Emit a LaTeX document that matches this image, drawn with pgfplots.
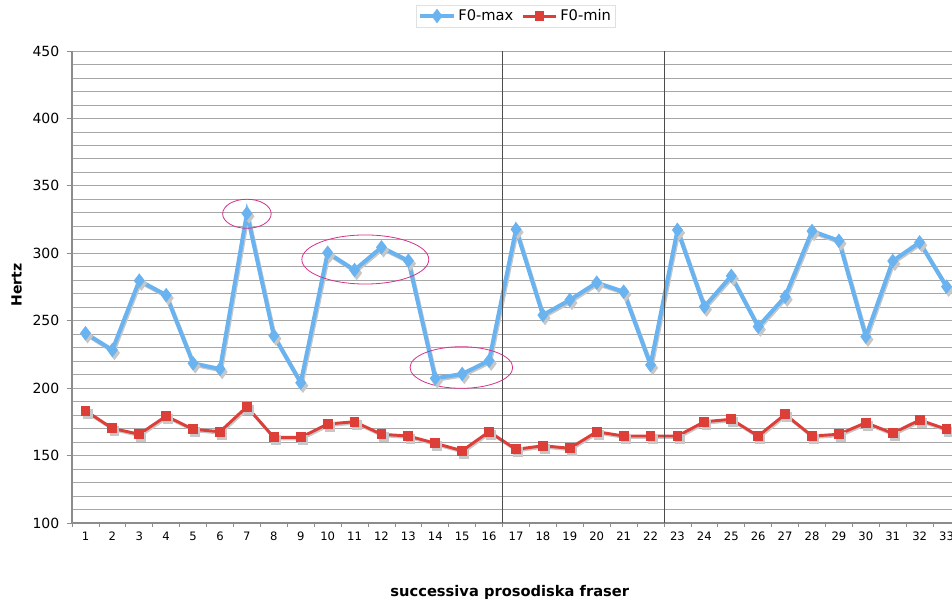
\documentclass[border=0pt]{standalone}
\usepackage{pgfplots}
\pgfplotsset{compat=1.18}
\usepackage{fontspec}
\setmainfont{DejaVu Sans}
\definecolor{fblue}{RGB}{104,179,240}
\definecolor{fred}{RGB}{222,62,56}
\definecolor{fmag}{RGB}{214,48,140}
\pgfplotstableread{
x max min
1 240.7 183.3
2 228.3 170.2
3 279.7 165.8
4 269.0 179.3
5 218.4 169.5
6 214.2 167.7
7 329.6 186.2
8 238.9 163.5
9 204.0 163.5
10 300.4 173.4
11 287.6 175.1
12 304.4 165.8
13 294.5 164.5
14 207.3 159.1
15 210.5 153.6
16 220.4 167.7
17 317.8 154.6
18 254.2 157.3
19 265.4 155.4
20 278.2 167.7
21 271.5 164.5
22 217.2 164.5
23 317.3 164.5
24 260.4 175.1
25 283.2 176.9
26 245.6 164.5
27 267.8 180.6
28 316.5 164.5
29 309.3 165.8
30 238.2 174.4
31 294.3 166.5
32 308.1 176.4
33 275.2 169.5
}\data
\begin{document}
\begin{tikzpicture}
\begin{axis}[
  scale only axis, width=666pt, height=354pt,
  xmin=0.5, xmax=33.5, ymin=100, ymax=450,
  axis x line*=bottom, axis y line*=left,
  axis line style={draw=black!45, line width=0.9pt},
  xtick={1,...,33}, major x tick style={draw=none},
  minor xtick={0.5,1.5,...,33.5},
  minor x tick style={draw=black!45, line width=0.6pt},
  ytick={100,150,...,450},
  minor ytick={110,120,...,440},
  minor y tick style={draw=none},
  major y tick style={draw=black!45, line width=0.6pt},
  ymajorgrids, yminorgrids,
  major grid style={draw=black!35, line width=0.6pt},
  minor grid style={draw=black!35, line width=0.6pt},
  tick align=outside,
  major tick length=4pt, minor tick length=3pt,
  /pgf/number format/assume math mode=true,
  xticklabel style={font=\fontsize{8.7}{10}\selectfont, yshift=1pt},
  yticklabel style={font=\fontsize{10.5}{12}\selectfont, xshift=-2pt},
  xlabel={\bfseries successiva prosodiska fraser},
  xlabel style={font=\fontsize{11}{13}\selectfont, at={(rel axis cs:0.493,-0.148)}, anchor=center},
  legend style={at={(rel axis cs:0.5,1.074)}, anchor=center, legend columns=2,
     draw=black!12, font=\fontsize{11}{13}\selectfont, inner sep=1.2pt,
     /tikz/every even column/.append style={column sep=4pt}},
  legend image code/.code={\draw[mark repeat=2,mark phase=2,#1] plot coordinates {(0pt,0pt) (12.5pt,0pt) (25pt,0pt)};},
  clip=false,
]
% shadows
\addplot[black!22, line width=3pt, mark=diamond*, mark size=3pt, forget plot,
  transform canvas={xshift=0.8pt,yshift=-1.1pt}] table[x=x,y=max]{\data};
\addplot[black!22, line width=2.2pt, mark=square*, mark size=2.6pt, forget plot,
  transform canvas={xshift=0.8pt,yshift=-1.1pt}] table[x=x,y=min]{\data};
% series
\addplot[fblue, line width=3pt, mark=diamond*, mark size=3pt, mark options={fill=fblue}] table[x=x,y=max]{\data};
\addlegendentry{F0-max}
\addplot[fred, line width=2.2pt, mark=square*, mark size=2.6pt, mark options={fill=fred}] table[x=x,y=min]{\data};
\addlegendentry{F0-min}
% separators
\draw[black!70, line width=0.5pt] (axis cs:16.5,450) -- (axis cs:16.5,100);
\draw[black!70, line width=0.5pt] (axis cs:22.5,450) -- (axis cs:22.5,100);
% annotation ellipses
\draw[fmag, line width=0.6pt] (axis cs:7,329.3) ellipse [x radius=18.2pt, y radius=10.9pt];
\draw[fmag, line width=0.6pt] (axis cs:11.4,295.4) ellipse [x radius=47.6pt, y radius=18.4pt];
\draw[fmag, line width=0.6pt] (axis cs:14.97,215.3) ellipse [x radius=38.5pt, y radius=15.6pt];
% y label
\node[rotate=90, anchor=center, font=\fontsize{10.5}{12}\selectfont\bfseries] at (rel axis cs:-0.0623,0.504) {Hertz};
\end{axis}
\pgfresetboundingbox
\path[use as bounding box] (-54pt,-60pt) rectangle (660pt,392.25pt);
\end{tikzpicture}
\end{document}
